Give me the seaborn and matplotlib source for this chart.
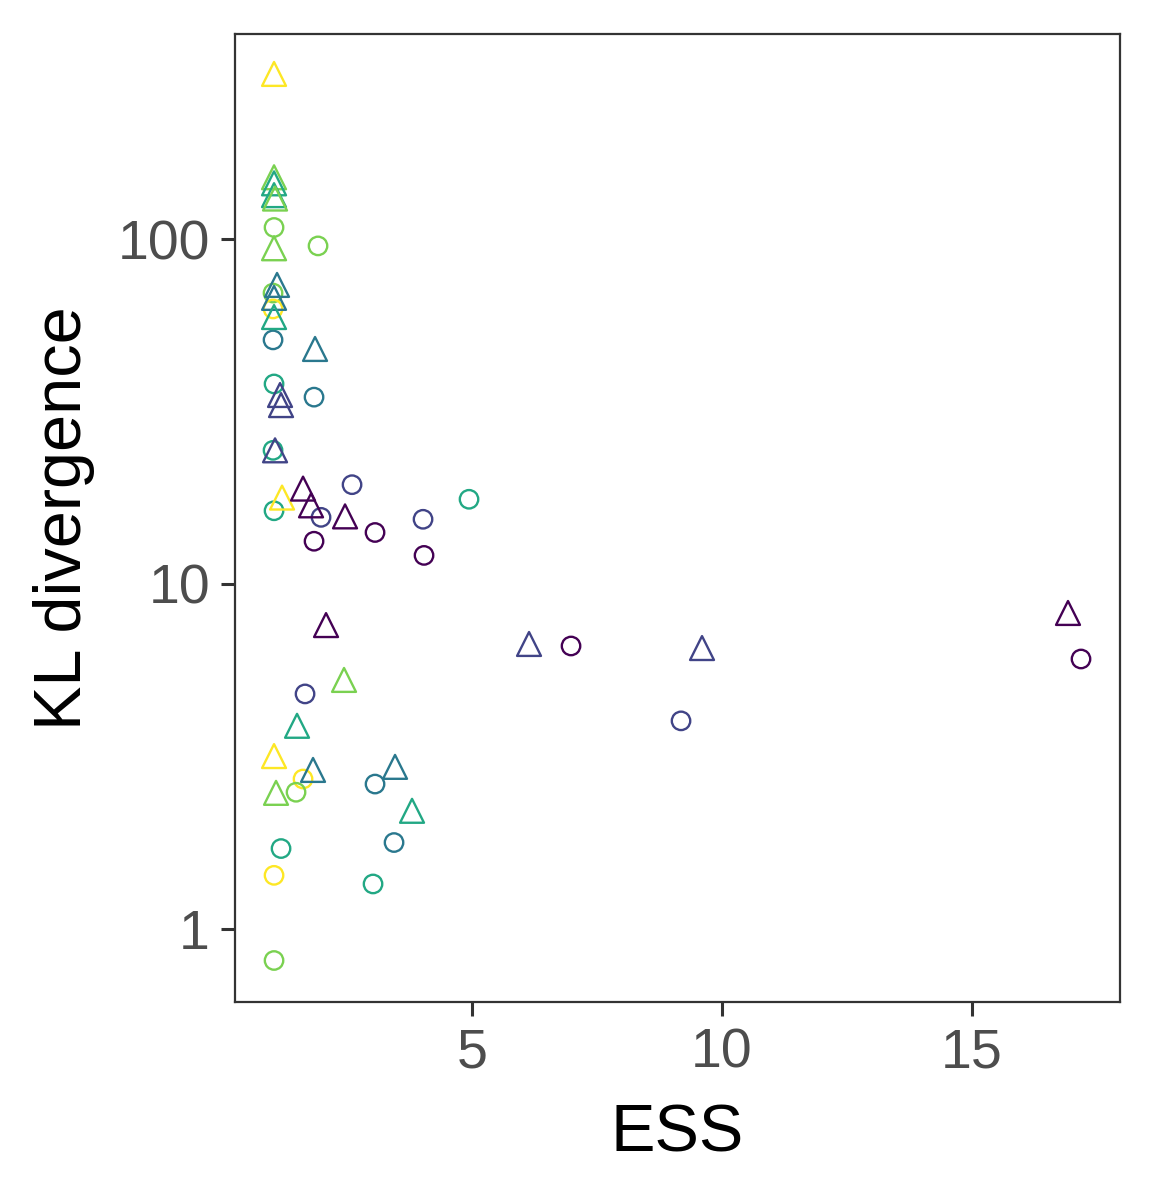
import matplotlib
matplotlib.use("Agg")
import matplotlib.pyplot as plt
import seaborn as sns
import pandas as pd
import numpy as np

# ---- data ----
circle_ess = [1.04, 1.92, 1.02, 1.02, 1.02, 1.04, 1.84, 1.02, 1.04, 1.98,
              2.60, 1.84, 3.06, 4.02, 4.04, 4.94, 1.66, 1.62, 1.48, 3.06,
              3.44, 1.18, 1.04, 3.02, 1.04, 6.98, 9.18, 17.18]
circle_kl = [108, 95.5, 69.7, 62.7, 51, 38, 34.8, 24.4, 16.3, 15.6,
             19.4, 13.3, 14.1, 15.4, 12.1, 17.6, 4.8, 2.72, 2.49, 2.63,
             1.78, 1.71, 1.43, 1.35, 0.81, 6.61, 4.01, 6.06]
circle_grp = ["g5", "g5", "g5", "g6", "g3", "g4", "g3", "g4", "g4", "g2",
              "g2", "g1", "g1", "g2", "g1", "g4", "g2", "g6", "g5", "g3",
              "g3", "g4", "g6", "g4", "g5", "g1", "g2", "g1"]

tri_ess = [1.04, 1.04, 1.04, 1.04, 1.06, 1.04, 1.10, 1.04, 1.04, 1.86,
           1.16, 1.18, 1.06, 1.20, 1.62, 1.78, 2.46, 2.08, 2.44, 1.50,
           1.04, 1.82, 1.08, 3.46, 3.80, 6.14, 9.60, 16.92]
tri_kl = [301, 151, 145, 134, 131, 94, 73.6, 67.5, 59.4, 48,
          35.3, 33.0, 24.4, 17.8, 18.9, 16.9, 15.7, 7.6, 5.27, 3.88,
          3.17, 2.89, 2.48, 2.95, 2.20, 6.70, 6.52, 8.24]
tri_grp = ["g6", "g5", "g4", "g4", "g5", "g5", "g3", "g3", "g4", "g3",
           "g2", "g2", "g2", "g6", "g1", "g1", "g1", "g1", "g5", "g4",
           "g6", "g3", "g5", "g3", "g4", "g2", "g2", "g1"]

groups = ["g1", "g2", "g3", "g4", "g5", "g6"]
group_colors = ["#440154", "#414487", "#2A788E", "#22A884", "#7AD151", "#FDE725"]

y_ticks = [1, 10, 100]
y_ticklabels = ["1", "10", "100"]
x_ticks = [5, 10, 15]
x_ticklabels = ["5", "10", "15"]

# ---- plot ----
sns.set_theme(style="white")
plt.rcParams["font.family"] = ["Liberation Sans", "DejaVu Sans"]

df_c = pd.DataFrame({"ESS": circle_ess, "KL": circle_kl, "grp": circle_grp})
df_t = pd.DataFrame({"ESS": tri_ess, "KL": tri_kl, "grp": tri_grp})
palette = dict(zip(groups, group_colors))

fig = plt.figure(figsize=(5.775, 6.0), dpi=200)
ax = fig.add_axes([0.2035, 0.165, 0.9697 - 0.2035, 0.9717 - 0.165])

sns.scatterplot(data=df_c, x="ESS", y="KL", hue="grp", palette=palette,
                hue_order=groups, marker="o", s=44, linewidth=0.85,
                legend=False, ax=ax)
sns.scatterplot(data=df_t, x="ESS", y="KL", hue="grp", palette=palette,
                hue_order=groups, marker="^", s=74, linewidth=0.85,
                legend=False, ax=ax)

for coll in ax.collections:
    fc = coll.get_facecolors()
    coll.set_edgecolors(fc)
    coll.set_facecolors("none")
    coll.set_linewidths(0.85)

ax.set_yscale("log")
ax.set_xlim(0.26, 17.96)
ax.set_ylim(0.614, 393)
ax.set_yticks(y_ticks)
ax.set_yticklabels(y_ticklabels)
ax.set_xticks(x_ticks)
ax.set_xticklabels(x_ticklabels)
ax.minorticks_off()
ax.yaxis.set_minor_locator(matplotlib.ticker.NullLocator())

ax.tick_params(axis="both", which="major", direction="out", length=5,
               width=1.1, color="#333333", labelsize=20, labelcolor="#4D4D4D",
               pad=4, left=True, bottom=True)
for sp in ax.spines.values():
    sp.set_visible(True)
    sp.set_color("#333333")
    sp.set_linewidth(0.8)

ax.set_xlabel("ESS", fontsize=24, color="black", labelpad=9)
ax.set_ylabel("KL divergence", fontsize=24, color="black", labelpad=8)
ax.grid(False)

fig.savefig("out.png", dpi=200)
